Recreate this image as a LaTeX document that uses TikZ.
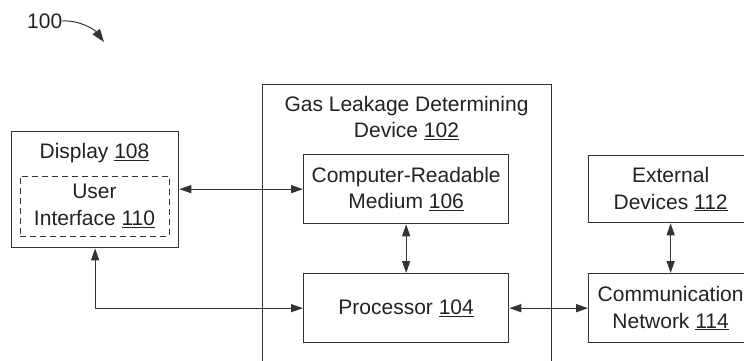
\documentclass[tikz,border=0pt]{standalone}
\usepackage{fontspec}
\setmainfont{Liberation Sans}
\usetikzlibrary{arrows.meta}
\definecolor{ln}{HTML}{333333}
\definecolor{tx}{HTML}{222222}
\tikzset{
  box/.style={draw=ln, line width=1.3pt, anchor=north west, inner sep=0pt, text=tx, align=center},
  dbox/.style={draw=ln, line width=1pt, dash pattern=on 6pt off 4pt, inner sep=0pt, text=tx, align=center},
  lbl/.style={text=tx, align=center, inner sep=0pt},
  conn/.style={draw=ln, line width=1.3pt, {Triangle[length=12pt,width=8pt]}-{Triangle[length=12pt,width=8pt]}},
}
\newcommand{\ul}[1]{\underline{#1}}
\begin{document}
\begin{tikzpicture}[x=1pt, y=-1pt, font=\fontsize{21}{26.5}\selectfont]
\useasboundingbox (0,0) rectangle (744,360);
\clip (0,0) rectangle (744,360);
% label 100
\node[lbl, anchor=west] (ref) at (27,21) {100};
\coordinate (refend) at (104,42);
\draw[draw=ln, line width=1pt, -{Triangle[length=13pt,width=9pt]}] (ref.east) .. controls (80,20) and (95,30) .. (refend);
% display
\node[box, minimum width=167pt, minimum height=116pt] (disp) at (11,131) {};
\node[lbl] (displbl) at (94.5,153) {Display \ul{108}};
\node[dbox, minimum width=149pt, minimum height=60pt] (ui) at (94.5,206) {User\\Interface \ul{110}};
% device
\node[box, minimum width=289pt, minimum height=340pt] (dev) at (262,84) {};
\node[lbl] (devlbl) at (406.5,118) {Gas Leakage Determining\\Device \ul{102}};
\node[box, minimum width=205pt, minimum height=69pt] (crm) at (303,154) {Computer-Readable\\Medium \ul{106}};
\node[box, minimum width=205pt, minimum height=69pt] (proc) at (303,273) {Processor \ul{104}};
% external
\node[box, minimum width=164pt, minimum height=67pt] (ext) at (588,155) {External\\Devices \ul{112}};
\node[box, minimum width=164pt, minimum height=69pt] (comm) at (588,273) {Communication\\Network \ul{114}};
% connectors
\draw[conn] (disp.east |- crm.west) -- (crm.west);
\draw[conn] (disp.south) |- (proc.west);
\draw[conn] (crm.south) -- (proc.north);
\draw[conn] (proc.east) -- (comm.west);
\draw[conn] (ext.south) -- (comm.north);
\end{tikzpicture}
\end{document}
